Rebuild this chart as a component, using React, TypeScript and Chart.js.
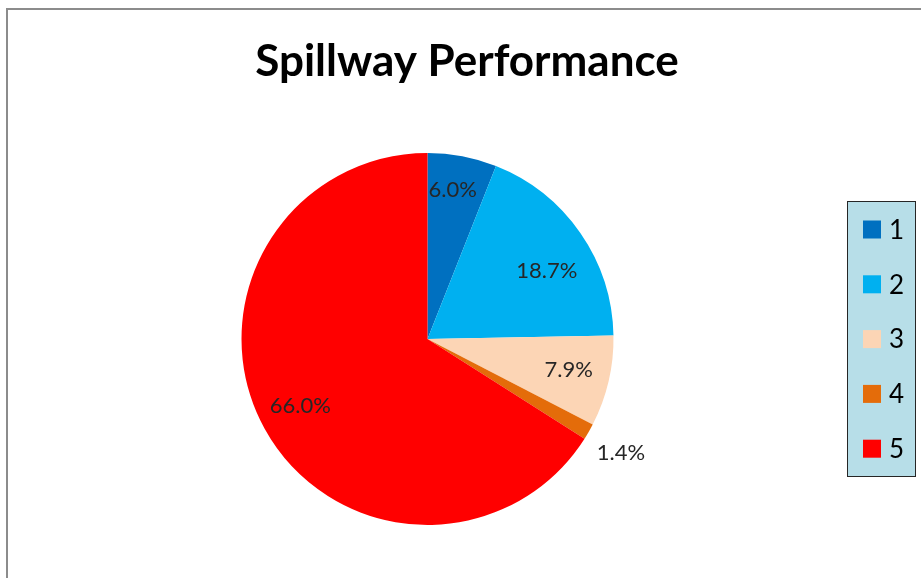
import React, { useEffect, useRef } from "react";
import { Chart, registerables } from "chart.js";

Chart.register(...registerables);

const title = "Spillway Performance";
const categories = ["1", "2", "3", "4", "5"];
const shares = [6.0, 18.7, 7.9, 1.4, 66.0];
const colors = ["#0070C0", "#00B0F0", "#FCD5B5", "#E46C0A", "#FF0000"];

const FONT = "Lato, 'Open Sans', sans-serif";
// label placement style: radial factor and small pixel nudges per slice
const LABEL_NUDGE = [
  [-2, -7],
  [0, 15],
  [0, -2],
  [0, 3],
  [0, -3],
];

const framePlugin = {
  id: "frameTitle",
  beforeDraw(chart: any) {
    const ctx = chart.ctx;
    ctx.save();
    ctx.fillStyle = "#ffffff";
    ctx.fillRect(0, 0, chart.width, chart.height);
    ctx.strokeStyle = "#8C8C8C";
    ctx.lineWidth = 2;
    ctx.strokeRect(7, 9, chart.width + 20, chart.height + 20);
    ctx.fillStyle = "#000000";
    ctx.font = `bold 44px ${FONT}`;
    ctx.textAlign = "center";
    ctx.textBaseline = "alphabetic";
    ctx.fillText(title, 467, 76);
    ctx.restore();
  },
};

const labelPlugin = {
  id: "sliceLabels",
  afterDatasetsDraw(chart: any) {
    const ctx = chart.ctx;
    const meta = chart.getDatasetMeta(0);
    const data = chart.data.datasets[0].data as number[];
    ctx.save();
    ctx.font = `22px ${FONT}`;
    ctx.fillStyle = "#262626";
    ctx.textAlign = "center";
    ctx.textBaseline = "middle";
    meta.data.forEach((arc: any, i: number) => {
      const p = arc.getProps(["x", "y", "startAngle", "endAngle", "outerRadius"], true);
      const mid = (p.startAngle + p.endAngle) / 2;
      const f = data[i] < 3 ? 1.2 : 0.78;
      const x = p.x + Math.cos(mid) * p.outerRadius * f + LABEL_NUDGE[i][0];
      const y = p.y + Math.sin(mid) * p.outerRadius * f + LABEL_NUDGE[i][1];
      ctx.fillText(data[i].toFixed(1) + "%", x, y);
    });
    ctx.restore();
  },
};

const legendPlugin = {
  id: "boxLegend",
  afterDraw(chart: any) {
    const ctx = chart.ctx;
    const bx = 847.5, by = 201.5, bw = 68, bh = 275;
    ctx.save();
    ctx.fillStyle = "#B7DEE8";
    ctx.fillRect(bx, by, bw, bh);
    ctx.strokeStyle = "#262626";
    ctx.lineWidth = 1;
    ctx.strokeRect(bx, by, bw, bh);
    ctx.font = `26px ${FONT}`;
    ctx.textAlign = "left";
    ctx.textBaseline = "middle";
    categories.forEach((c, i) => {
      const cy = 229.5 + i * 54.8;
      ctx.fillStyle = colors[i];
      ctx.fillRect(863, cy - 9, 18, 18);
      ctx.fillStyle = "#000000";
      ctx.fillText(c, 889, cy + 1);
    });
    ctx.restore();
  },
};

export default function App() {
  const ref = useRef<HTMLCanvasElement | null>(null);
  useEffect(() => {
    document.body.style.margin = "0";
    if (!ref.current) return;
    const chart = new Chart(ref.current, {
      type: "pie",
      data: {
        labels: categories,
        datasets: [
          {
            data: shares,
            backgroundColor: colors,
            borderWidth: 0,
          },
        ],
      },
      options: {
        responsive: false,
        animation: false,
        devicePixelRatio: 1,
        layout: { padding: { left: 241, right: 307, top: 153, bottom: 53 } },
        plugins: {
          legend: { display: false },
          title: { display: false },
          tooltip: { enabled: false },
        },
      },
      plugins: [framePlugin, labelPlugin, legendPlugin],
    });
    return () => chart.destroy();
  }, []);
  return (
    <div style={{ position: "absolute", left: 0, top: 0, width: 921, height: 578 }}>
      <canvas ref={ref} width={921} height={578} />
    </div>
  );
}
